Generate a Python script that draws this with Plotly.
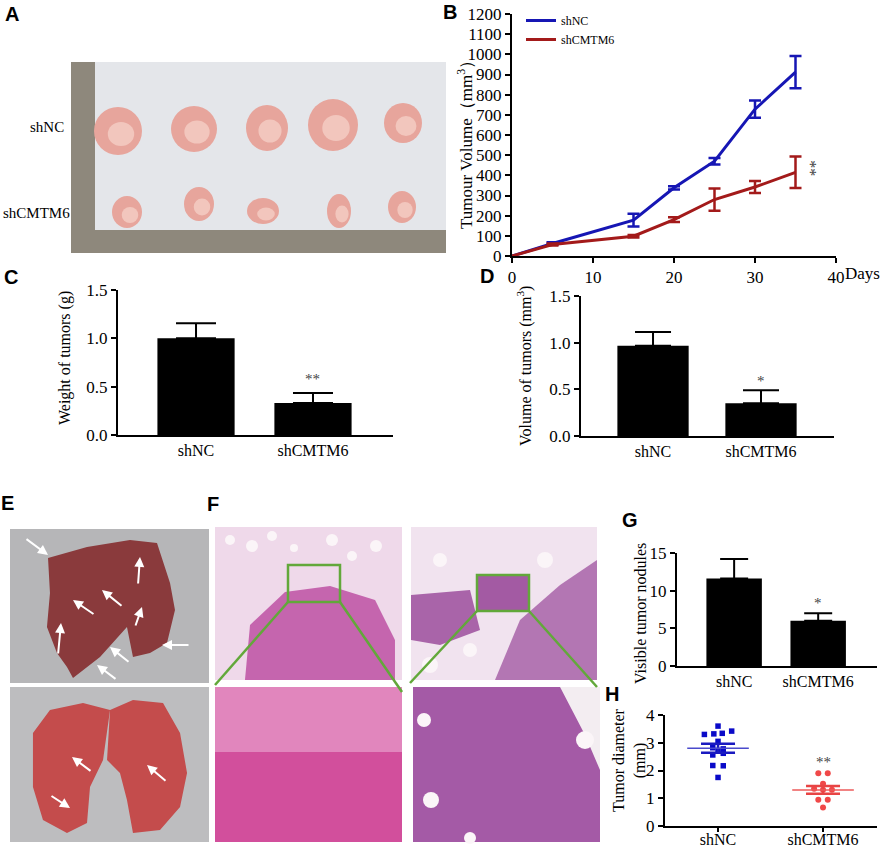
import plotly.graph_objects as go

W, H = 886, 847

# B: tumour growth curve
days = [0, 5, 15, 20, 25, 30, 35]
nc_vol = [0, 62, 178, 338, 470, 728, 912]
nc_err = [0, 6, 32, 8, 16, 43, 80]
cm_vol = [0, 57, 98, 180, 280, 342, 415]
cm_err = [0, 5, 6, 12, 55, 30, 78]
day_ticks = [0, 10, 20, 30, 40]

groups = ["shNC", "shCMTM6"]

# C: weight of tumors (g)
weight = [1.0, 0.33]
weight_err = [0.155, 0.105]

# D: volume of tumors
volume = [0.966, 0.35]
volume_err = [0.147, 0.14]

# G: visible tumor nodules
nodules = [11.6, 6.0]
nodules_err = [2.6, 1.0]

# H: tumor diameter (mm), dots with their horizontal spread
diam_nc = [3.6, 3.3, 3.32, 3.34, 3.42, 3.05, 2.82, 2.78, 2.72, 2.56, 2.62, 2.18, 2.17, 1.75]
diam_nc_jit = [0, -0.13, -0.04, 0.04, 0.13, 0, -0.05, 0.05, 0.0, -0.05, 0.05, -0.05, 0.05, 0]
diam_cm = [1.9, 1.9, 1.52, 1.34, 1.31, 1.31, 0.95, 0.95, 0.67]
diam_cm_jit = [-0.045, 0.045, 0, -0.085, 0, 0.085, -0.045, 0.045, 0]
diam_mean = [2.8, 1.3]
diam_sem = [0.16, 0.14]

BLUE = "#1616b4"
RED = "#a31a1a"
SERIF = "Liberation Serif"


def px(x):
    return x / W


def py(y):
    return 1 - y / H


shapes = []


def rect(x0, y0, x1, y1, fill, line=None, layer="below"):
    shapes.append(dict(type="rect", xref="paper", yref="paper",
                       x0=px(x0), x1=px(x1), y0=py(y1), y1=py(y0),
                       fillcolor=fill, line=line or dict(width=0), layer=layer))


def oval(cx, cy, rx, ry, fill):
    shapes.append(dict(type="circle", xref="paper", yref="paper",
                       x0=px(cx - rx), x1=px(cx + rx), y0=py(cy + ry), y1=py(cy - ry),
                       fillcolor=fill, line=dict(width=0), layer="below"))


def poly(pts, fill):
    path = "M" + " L".join(f"{px(x):.4f},{py(y):.4f}" for x, y in pts) + " Z"
    shapes.append(dict(type="path", xref="paper", yref="paper", path=path,
                       fillcolor=fill, line=dict(width=0), layer="below"))


def seg(x0, y0, x1, y1, color, width):
    shapes.append(dict(type="line", xref="paper", yref="paper",
                       x0=px(x0), x1=px(x1), y0=py(y0), y1=py(y1),
                       line=dict(color=color, width=width)))


# ---- A: photo of excised tumours (drawn as a sketch)
rect(71, 62, 446, 253, "#e4e6ea")
rect(71, 62, 95, 253, "#8e887c")
rect(71, 230, 446, 253, "#8e887c")
for cx, cy, rx, ry in [(118, 131, 24, 24), (194, 129, 23, 23), (267, 128, 21, 23),
                       (333, 125, 25, 26), (403, 123, 19, 20),
                       (127, 212, 15, 16), (199, 204, 15, 17), (263, 211, 16, 13),
                       (339, 211, 12, 17), (402, 207, 14, 16)]:
    oval(cx, cy, rx, ry, "#e7a59c")
    oval(cx + 3, cy + 3, rx * 0.55, ry * 0.5, "#f2c6bd")

# ---- E: lung photos
rect(10, 529, 209, 683, "#b6b6b8")
rect(10, 687, 209, 842, "#bdbdbf")
poly([(48, 558), (87, 547), (130, 540), (157, 543), (170, 583), (175, 610), (167, 643),
      (150, 653), (133, 657), (127, 627), (100, 657), (73, 678), (67, 667), (57, 653),
      (47, 627), (50, 593)], "#8a3a3c")
poly([(33, 733), (50, 710), (83, 703), (110, 710), (103, 760), (90, 787), (87, 823),
      (67, 833), (43, 820), (33, 787)], "#c44c4c")
poly([(110, 710), (133, 700), (163, 703), (180, 733), (187, 773), (180, 807), (160, 830),
      (133, 833), (127, 800), (120, 773), (107, 760)], "#c44c4c")

# ---- F: histology sections
rect(215, 527, 402, 680, "#efd9ea")
poly([(245, 680), (250, 625), (285, 592), (330, 586), (375, 600), (395, 640), (395, 680)], "#c565ae")
rect(215, 687, 402, 842, "#d24f9c")
rect(215, 687, 402, 752, "#e186bd")
rect(411, 527, 597, 680, "#f1e3ef")
poly([(495, 680), (520, 620), (560, 585), (597, 560), (597, 680)], "#b376b3")
poly([(411, 595), (470, 590), (480, 630), (440, 645), (411, 640)], "#a964a9")
rect(477, 575, 529, 611, "#a35aa3")
rect(413, 687, 600, 842, "#a45aa6")
poly([(560, 687), (600, 687), (600, 770), (585, 735)], "#f3edf1")
for cx, cy, r in [(230, 540, 5), (252, 546, 6), (272, 536, 5), (294, 548, 4), (332, 540, 6),
                  (352, 556, 5), (376, 546, 6), (440, 560, 7), (545, 560, 8), (470, 650, 7),
                  (430, 665, 8), (585, 740, 9), (424, 720, 7), (431, 800, 8), (470, 838, 6)]:
    oval(cx, cy, r, r, "#fbf5f8")

# zoom boxes and connector lines
GREEN = "#62a83a"
rect(288, 565, 340, 602, "rgba(0,0,0,0)", dict(color=GREEN, width=2.5), "above")
rect(477, 575, 529, 611, "rgba(0,0,0,0)", dict(color=GREEN, width=2.5), "above")
seg(288, 602, 215, 685, GREEN, 2.5)
seg(340, 602, 402, 692, GREEN, 2.5)
seg(477, 611, 410, 683, GREEN, 2.5)
seg(529, 611, 597, 687, GREEN, 2.5)

fig = go.Figure()

# B traces
fig.add_trace(go.Scatter(x=days, y=nc_vol, mode="lines", name="shNC",
                         line=dict(color=BLUE, width=3),
                         error_y=dict(type="data", array=nc_err, color=BLUE, thickness=2.5, width=6),
                         xaxis="x", yaxis="y"))
fig.add_trace(go.Scatter(x=days, y=cm_vol, mode="lines", name="shCMTM6",
                         line=dict(color=RED, width=3),
                         error_y=dict(type="data", array=cm_err, color=RED, thickness=2.5, width=6),
                         xaxis="x", yaxis="y"))


def bars(vals, errs, xa, ya, cap):
    return go.Bar(x=groups, y=vals, width=0.66, showlegend=False,
                  marker=dict(color="black", line=dict(width=0)),
                  error_y=dict(type="data", array=errs, arrayminus=[0] * len(errs),
                               symmetric=False, color="black", thickness=2, width=cap),
                  xaxis=xa, yaxis=ya)


fig.add_trace(bars(weight, weight_err, "x2", "y2", 20))
fig.add_trace(bars(volume, volume_err, "x3", "y3", 18))
fig.add_trace(bars(nodules, nodules_err, "x4", "y4", 14))

# H traces
fig.add_trace(go.Scatter(x=[0 + j for j in diam_nc_jit], y=diam_nc, mode="markers", showlegend=False,
                         marker=dict(symbol="square", size=5.5, color="#0a0ac8"),
                         xaxis="x5", yaxis="y5"))
fig.add_trace(go.Scatter(x=[1 + j for j in diam_cm_jit], y=diam_cm, mode="markers", showlegend=False,
                         marker=dict(symbol="circle", size=6, color="#f04848"),
                         xaxis="x5", yaxis="y5"))
for i, (c_line, c_sem) in enumerate([("#4a4acc", "#1a1ac0"), ("#ec5a5a", "#e84444")]):
    fig.add_trace(go.Scatter(x=[i], y=[diam_mean[i]], mode="markers", showlegend=False,
                             marker=dict(symbol="line-ew", size=44, line=dict(color=c_line, width=1.5)),
                             error_y=dict(type="data", array=[diam_sem[i]], color=c_sem,
                                          thickness=2.5, width=17),
                             xaxis="x5", yaxis="y5"))


def axis(domain, **kw):
    d = dict(domain=domain, showline=True, linecolor="black", linewidth=2,
             ticks="outside", tickcolor="black", tickwidth=2, ticklen=5,
             showgrid=False, zeroline=False, automargin=False,
             tickfont=dict(family=SERIF, size=17, color="black"))
    d.update(kw)
    return d


def xd(a, b):
    return [px(a), px(b)]


def yd(top, bottom):
    return [py(bottom), py(top)]


cat_font = dict(family=SERIF, size=16, color="black")

fig.update_layout(
    width=W, height=H, margin=dict(l=0, r=0, t=0, b=0, autoexpand=False),
    paper_bgcolor="white", plot_bgcolor="rgba(0,0,0,0)",
    bargap=0.3,
    xaxis=axis(xd(512, 836), range=[0, 40], tickvals=day_ticks, anchor="y"),
    yaxis=axis(yd(14, 256), range=[0, 1200], dtick=100, anchor="x"),
    xaxis2=axis(xd(118, 393), type="category", range=[-0.667, 1.684], ticks="",
                tickfont=cat_font, anchor="y2"),
    yaxis2=axis(yd(290, 435), range=[0, 1.5], dtick=0.5, tickformat=".1f", anchor="x2"),
    xaxis3=axis(xd(581, 834), type="category", range=[-0.667, 1.676], ticks="",
                tickfont=cat_font, anchor="y3"),
    yaxis3=axis(yd(296, 436), range=[0, 1.5], dtick=0.5, tickformat=".1f", anchor="x3"),
    xaxis4=axis(xd(677, 877), type="category", range=[-0.68, 1.70], ticks="",
                tickfont=cat_font, anchor="y4"),
    yaxis4=axis(yd(553, 666), range=[0, 15], dtick=5, anchor="x4"),
    xaxis5=axis(xd(665, 877), range=[-0.505, 1.514], tickvals=[0, 1], ticktext=groups,
                ticklen=4, tickwidth=1.5, tickfont=cat_font, ticklabelstandoff=-6, anchor="y5"),
    yaxis5=axis(yd(715, 826), range=[0, 4], dtick=1, anchor="x5"),
    legend=dict(x=px(521), y=py(6), xanchor="left", yanchor="top",
                font=dict(family=SERIF, size=12, color="black"),
                bgcolor="rgba(0,0,0,0)", itemwidth=30, tracegroupgap=0),
    shapes=shapes,
)

ann = []


def text(x, y, s, size=16, angle=0, family=SERIF, **kw):
    ann.append(dict(x=px(x), y=py(y), xref="paper", yref="paper", text=s, showarrow=False,
                    textangle=angle, font=dict(family=family, size=size, color="black"),
                    xanchor="center", yanchor="middle", **kw))


# panel letters
for letter, x, y in [("A", 12, 14), ("B", 450, 12), ("C", 11, 277), ("D", 487, 276),
                     ("E", 8, 503), ("F", 213, 504), ("G", 630, 520), ("H", 612, 694)]:
    text(x, y, f"<b>{letter}</b>", size=20, family="Liberation Sans")

# axis titles
text(465, 140, "Tumour Volume（mm<sup>3</sup>）", size=17, angle=-90)
text(862, 273, "Days", size=17)
text(65, 358, "Weight of tumors (g)", size=16, angle=-90)
text(524, 366, "Volume of tumors (mm<sup>3</sup>)", size=16, angle=-90)
text(640, 614, "Visible tumor nodules", size=16, angle=-90)
text(629, 760, "Tumor diameter<br>(mm)", size=16, angle=-90)

# row labels in A
text(47, 127, "shNC", size=15)
text(36, 213, "shCMTM6", size=15)

# significance marks
ann.append(dict(x=36.9, y=436, xref="x", yref="y", text="**", showarrow=False, textangle=90,
                font=dict(family=SERIF, size=16, color="#444444")))
for xa, ya, s, yv in [("x2", "y2", "**", weight[1] + weight_err[1] + 0.14),
                      ("x3", "y3", "*", volume[1] + volume_err[1] + 0.1),
                      ("x4", "y4", "*", nodules[1] + nodules_err[1] + 1.3),
                      ("x5", "y5", "**", diam_cm[0] + 0.42)]:
    ann.append(dict(x=groups[1] if xa != "x5" else 1, y=yv, xref=xa, yref=ya, text=s,
                    showarrow=False, font=dict(family=SERIF, size=15, color="#444444")))

# white arrows on the lung photos (head, tail)
arrows = [((48, 555), (25, 538)), ((140, 557), (138, 585)), ((73, 600), (95, 615)),
          ((102, 590), (123, 607)), ((142, 607), (135, 627)), ((61, 623), (58, 655)),
          ((162, 645), (190, 645)), ((110, 647), (130, 663)), ((97, 665), (117, 680)),
          ((72, 757), (92, 772)), ((147, 765), (167, 782)), ((70, 808), (50, 795))]
for (hx, hy), (tx, ty) in arrows:
    ann.append(dict(x=px(hx), y=py(hy), xref="paper", yref="paper", text="", showarrow=True,
                    ax=tx - hx, ay=ty - hy, arrowcolor="white", arrowwidth=2,
                    arrowhead=2, arrowsize=1))

fig.update_layout(annotations=ann)

# page body margin would push the fixed-size figure off the window
fig.write_html("out.html", config={"displayModeBar": False},
               post_script="document.body.style.margin='0';")
